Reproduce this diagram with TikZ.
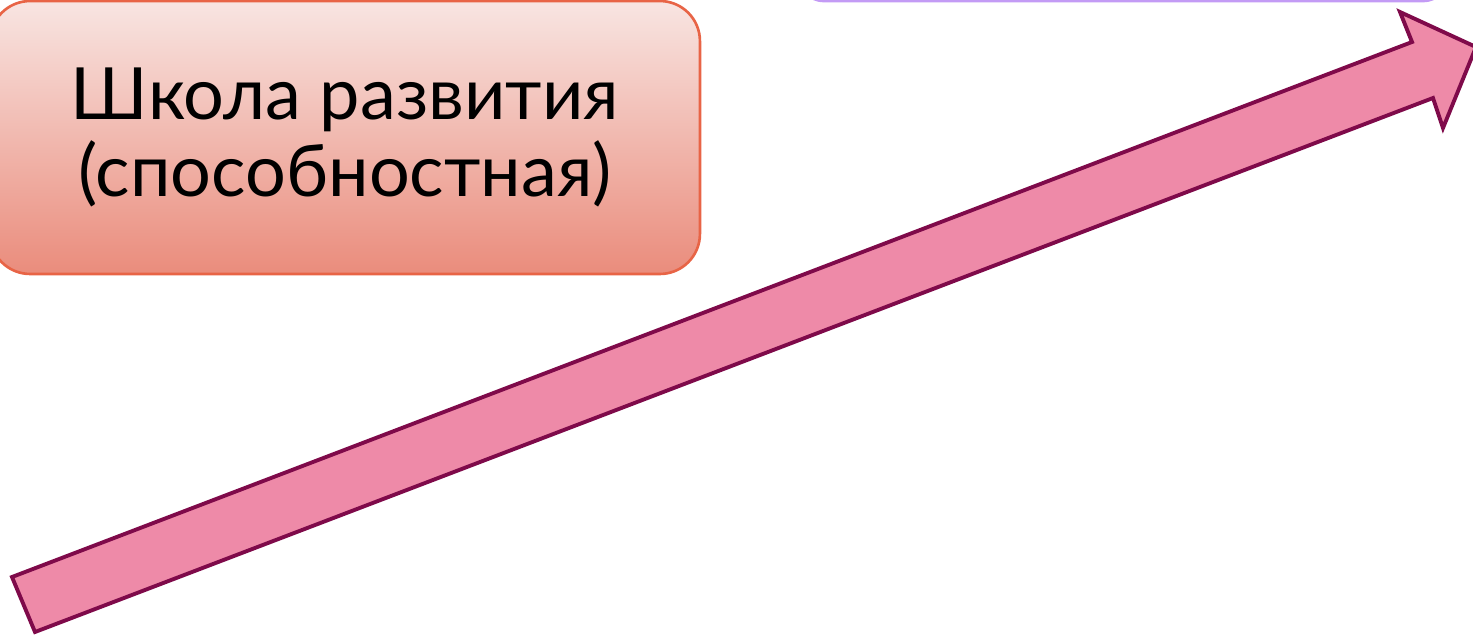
\documentclass[tikz,border=0pt]{standalone}
\usepackage{fontspec}
\setmainfont{Lato}
\definecolor{boxtop}{RGB}{248,229,226}
\definecolor{boxbottom}{RGB}{234,140,124}
\definecolor{boxline}{RGB}{232,100,70}
\definecolor{topline}{RGB}{195,155,245}
\definecolor{arrowfill}{RGB}{238,138,168}
\definecolor{arrowline}{RGB}{127,10,74}
\tikzset{
	schoolbox/.style={rectangle,rounded corners=0.8cm,draw=boxline,line width=1.5pt,
		top color=boxtop,bottom color=boxbottom,minimum width=14.2cm,minimum height=5.46cm,
		align=center,font=\fontsize{41}{43.5}\selectfont},
	upperbox/.style={draw=topline,line width=1.6pt,rounded corners=0.5cm},
	bigarrow/.style={draw=arrowline,fill=arrowfill,line width=2.2pt,line join=miter}
}
\begin{document}
\begin{tikzpicture}[x=0.02cm,y=-0.02cm]
	\useasboundingbox (0,0) rectangle (1473,635);
	\clip (0,0) rectangle (1473,635);
	% box above, only its lower edge shows
	\draw[upperbox] (799,-80) rectangle (1448,1);
	\node[schoolbox] (school) at (345,137.5) {Школа развития\\(способностная)};
	\foreach \n/\x/\y in
	{
		tailtop/12/577,
		tailbot/35/632,
		neckbot/1433/98,
		barbbot/1443/128,
		tip/1476/47,
		barbtop/1400/12,
		necktop/1412/42
	}
	\coordinate (\n) at (\x,\y);
	\draw[bigarrow] (tailtop) -- (tailbot) -- (neckbot) -- (barbbot) -- (tip)
		-- (barbtop) -- (necktop) -- cycle;
\end{tikzpicture}
\end{document}
